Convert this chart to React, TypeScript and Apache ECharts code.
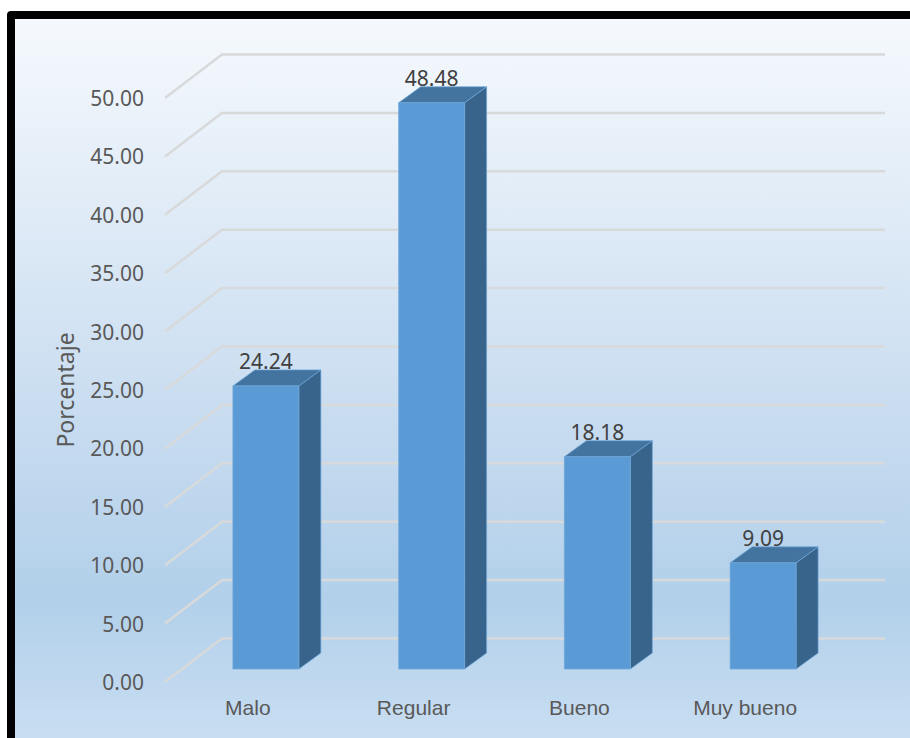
import React, { useEffect, useRef } from "react";
import * as echarts from "echarts";

const categories = ["Malo", "Regular", "Bueno", "Muy bueno"];
const percentages = [24.24, 48.48, 18.18, 9.09];
const gridTicks = [0, 5, 10, 15, 20, 25, 30, 35, 40, 45, 50];

// Oblique projection: back wall and the plane the columns stand in, relative to the front plane.
const WALL_DX = 57;
const WALL_DY = -43.5;
const WALL_WIDTH = 663;
const BAR_DX = 18;
const BAR_DY = -13;
const DEPTH_DX = 22;
const DEPTH_DY = -16;

const COL_FRONT = "#5b9bd5";
const COL_TOP = "#43749f";
const COL_SIDE = "#38638a";
const COL_EDGE = "#6ea6da";

export default function App() {
  const ref = useRef<HTMLDivElement>(null);

  useEffect(() => {
    document.body.style.margin = "0";
    const chart = echarts.init(ref.current!, null, { renderer: "svg" });
    chart.setOption({
      animation: false,
      graphic: [
        { type: "rect", z: -2, silent: true, shape: { x: 7, y: 11, width: 920, height: 750, r: 4 }, style: { fill: "#000" } },
        {
          type: "rect",
          z: -1,
          silent: true,
          shape: { x: 15, y: 19, width: 905, height: 725 },
          style: {
            fill: new echarts.graphic.LinearGradient(0, 0, 0, 1, [
              { offset: 0, color: "#f5f9fd" },
              { offset: 0.25, color: "#e1ecf7" },
              { offset: 0.55, color: "#c8dcf0" },
              { offset: 0.8, color: "#b2d0ea" },
              { offset: 1, color: "#c9def2" },
            ]),
          },
        },
      ],
      grid: { left: 165, top: 98, width: WALL_WIDTH, height: 584, containLabel: false },
      xAxis: {
        type: "category",
        data: categories,
        axisLine: { show: false },
        axisTick: { show: false },
        axisLabel: { color: "#595959", fontFamily: "Liberation Sans", fontSize: 21, margin: 15 },
      },
      yAxis: {
        type: "value",
        min: 0,
        max: 50,
        interval: 5,
        name: "Porcentaje",
        nameLocation: "middle",
        nameGap: 89,
        nameRotate: 90,
        nameTextStyle: { color: "#595959", fontFamily: "Noto Sans", fontSize: 23 },
        splitLine: { show: false },
        axisLine: { show: false },
        axisTick: { show: false },
        axisLabel: {
          color: "#595959",
          fontFamily: "Noto Sans",
          fontSize: 21,
          margin: 21,
          formatter: (v: number) => v.toFixed(2),
        },
      },
      series: [
        {
          // Gridlines: a floor diagonal followed by the run along the back wall.
          type: "custom",
          silent: true,
          clip: false,
          z: 1,
          data: gridTicks.map((t) => [0, t]),
          renderItem: (params: any, api: any) => {
            const y = api.coord([0, api.value(1)])[1];
            const x = params.coordSys.x;
            return {
              type: "polyline",
              shape: {
                points: [
                  [x, y],
                  [x + WALL_DX, y + WALL_DY],
                  [x + WALL_DX + WALL_WIDTH, y + WALL_DY],
                ],
              },
              style: { fill: "none", stroke: "#d8d9da", lineWidth: 2.5 },
            };
          },
        },
        {
          // Columns: front face, top and side faces, value above the back edge.
          type: "custom",
          clip: false,
          z: 2,
          data: percentages.map((v, i) => [i, v]),
          renderItem: (_params: any, api: any) => {
            const value = api.value(1);
            const top = api.coord([api.value(0), value]);
            const base = api.coord([api.value(0), 0]);
            const w = api.size([1, 0])[0] * 0.398;
            const l = top[0] + BAR_DX - w / 2;
            const r = l + w;
            const t = top[1] + BAR_DY;
            const b = base[1] + BAR_DY;
            const dx = DEPTH_DX;
            const dy = DEPTH_DY;
            const edge = { stroke: COL_EDGE, lineWidth: 1, strokeOpacity: 0.7 };
            return {
              type: "group",
              children: [
                {
                  type: "polygon",
                  shape: { points: [[r, t], [r + dx, t + dy], [r + dx, b + dy], [r, b]] },
                  style: { fill: COL_SIDE, ...edge },
                },
                {
                  type: "polygon",
                  shape: { points: [[l, t], [l + dx, t + dy], [r + dx, t + dy], [r, t]] },
                  style: { fill: COL_TOP, ...edge },
                },
                {
                  type: "rect",
                  shape: { x: l, y: t, width: w, height: b - t },
                  style: { fill: COL_FRONT, ...edge },
                },
                {
                  type: "text",
                  style: {
                    x: (l + r) / 2,
                    y: t + dy - 9,
                    text: value.toFixed(2),
                    fill: "#404040",
                    font: '21px "Noto Sans"',
                    align: "center",
                    verticalAlign: "middle",
                  },
                },
              ],
            };
          },
        },
      ],
    });
    return () => chart.dispose();
  }, []);

  return <div ref={ref} style={{ width: 910, height: 738 }} />;
}
